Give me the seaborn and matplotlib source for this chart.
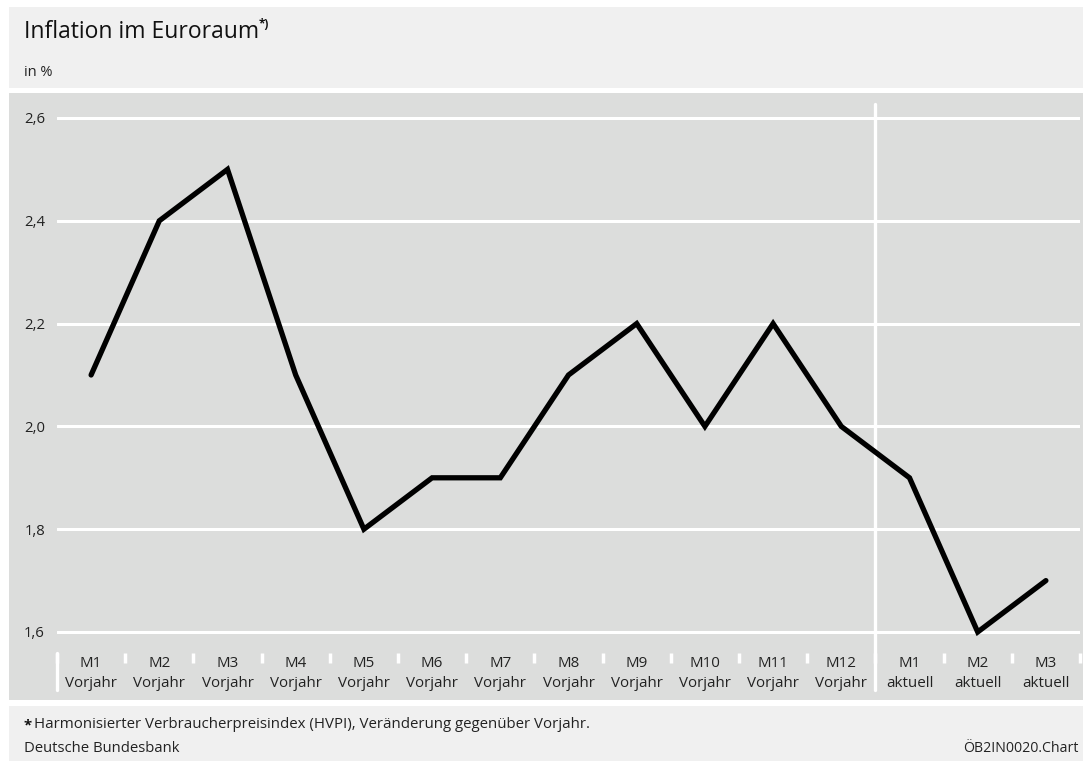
import matplotlib
matplotlib.use("Agg")
import matplotlib.pyplot as plt
import matplotlib.patches as mpatches
import numpy as np
import pandas as pd
import seaborn as sns

months = ["M1", "M2", "M3", "M4", "M5", "M6", "M7", "M8", "M9", "M10", "M11", "M12", "M1", "M2", "M3"]
periods = ["Vorjahr"] * 12 + ["aktuell"] * 3
inflation = [2.1, 2.4, 2.5, 2.1, 1.8, 1.9, 1.9, 2.1, 2.2, 2.0, 2.2, 2.0, 1.9, 1.6, 1.7]
yticks = [1.6, 1.8, 2.0, 2.2, 2.4, 2.6]
ytick_labels = ["1,6", "1,8", "2,0", "2,2", "2,4", "2,6"]

sns.set_theme(style="white")
plt.rcParams["font.family"] = ["Open Sans", "DejaVu Sans"]

W, H = 1083, 761
fig = plt.figure(figsize=(W / 100, H / 100), dpi=100)
fig.patch.set_facecolor("white")

def px_rect(x0, y0, x1, y1, color):
    fig.patches.append(mpatches.Rectangle((x0 / W, 1 - y1 / H), (x1 - x0) / W, (y1 - y0) / H,
                                          transform=fig.transFigure, facecolor=color,
                                          edgecolor="none", zorder=-10))

px_rect(9, 7, 1083, 88, "#f0f0f0")
px_rect(9, 93, 1083, 700, "#dcdddc")
px_rect(9, 706, 1083, 761, "#f0f0f0")

ax_l, ax_r, ax_t, ax_b = 57, 1080, 104, 653
ax = fig.add_axes([ax_l / W, 1 - ax_b / H, (ax_r - ax_l) / W, (ax_b - ax_t) / H])
ax.set_facecolor("none")
ax.set_zorder(1)

df = pd.DataFrame({"idx": np.arange(len(inflation)), "value": inflation})
sns.lineplot(data=df, x="idx", y="value", ax=ax, color="black", linewidth=3.8, zorder=5)
for l in ax.lines:
    l.set_solid_joinstyle("miter")

# y scale: 2.6 at y=118px, 1.6 at y=632px
ppu = (632 - 118) / 1.0
ax.set_ylim(1.6 - (ax_b - 632) / ppu, 2.6 + (118 - ax_t) / ppu)
ax.set_xlim(-0.5, len(inflation) - 0.5)

for s in ax.spines.values():
    s.set_visible(False)

ax.set_yticks(yticks)
ax.set_yticklabels(ytick_labels)
ax.yaxis.grid(True, color="white", linewidth=2.2)
ax.xaxis.grid(False)
ax.set_axisbelow(True)
ax.tick_params(axis="y", length=0, pad=8.6, labelsize=10.7, colors="#222222")

ax.set_xticks(np.arange(len(inflation)))
ax.set_xticklabels([f"{m}\n{p}" for m, p in zip(months, periods)], linespacing=1.45)
ax.tick_params(axis="x", which="major", bottom=True, length=0, pad=2, labelsize=10.9, colors="#222222")
ax.set_xticks(np.arange(len(inflation) + 1) - 0.5, minor=True)
ax.tick_params(axis="x", which="minor", bottom=True, length=7.5, width=2.5, color="white", direction="out")
ax.set_xlabel("")
ax.set_ylabel("")

# separator between years and left boundary line
ext = -(690 - ax_b) / (ax_b - ax_t)
ax.axvline(11.5, ymin=ext, ymax=1.0, color="white", linewidth=2.4, clip_on=False, zorder=2)
ax.axvline(-0.5, ymin=ext, ymax=0, color="white", linewidth=2.4, clip_on=False, zorder=2)

fig.text(24 / W, 1 - 32 / H, "Inflation im Euroraum", fontsize=16.5, color="#111111", va="center", ha="left")
fig.text(259 / W, 1 - 25 / H, "*)", fontsize=8.5, color="#111111", va="center", ha="left", fontweight="bold")
fig.text(24 / W, 1 - 72 / H, "in %", fontsize=10.5, color="#222222", va="center", ha="left")

fig.text(24 / W, 1 - 725 / H, "*", fontsize=10.7, color="#111111", va="center", ha="left", fontweight="bold")
fig.text(34 / W, 1 - 725 / H, "Harmonisierter Verbraucherpreisindex (HVPI), Veränderung gegenüber Vorjahr.",
         fontsize=10.8, color="#222222", va="center", ha="left")
fig.text(24 / W, 1 - 748 / H, "Deutsche Bundesbank", fontsize=10.7, color="#222222", va="center", ha="left")
fig.text(1079 / W, 1 - 748 / H, "ÖB2IN0020.Chart", fontsize=10.2, color="#222222", va="center", ha="right")

fig.savefig("out.png", dpi=100, facecolor="white")
